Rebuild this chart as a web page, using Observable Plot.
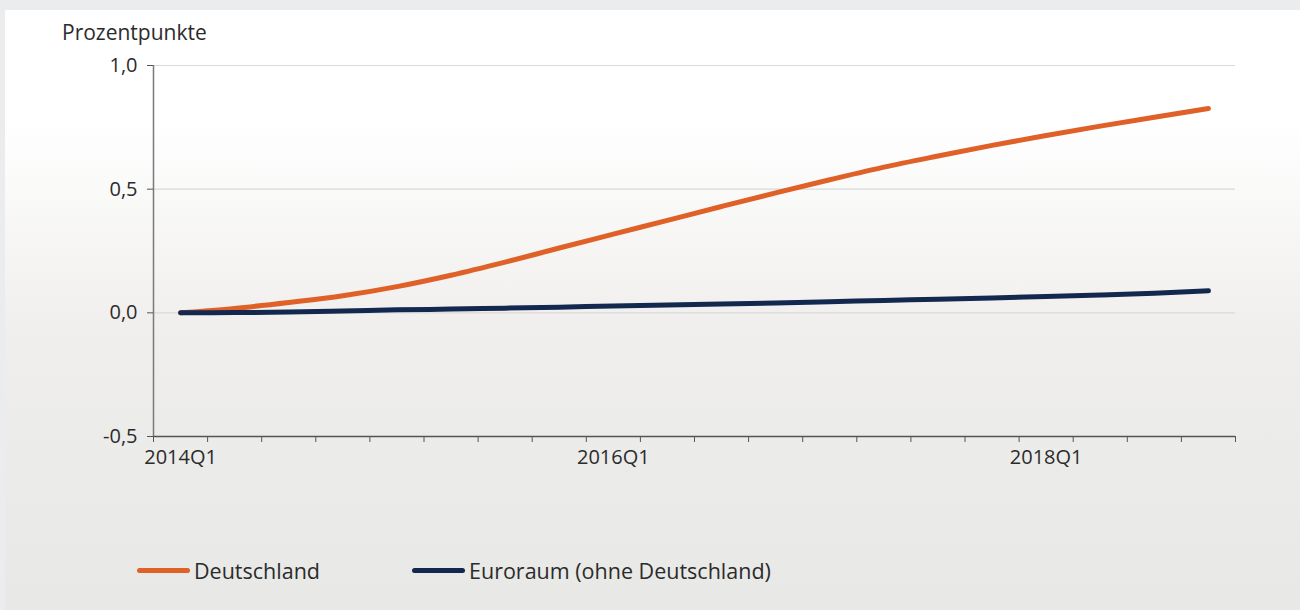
<!DOCTYPE html>
<html>
<head>
<meta charset="utf-8">
<script src="https://cdn.jsdelivr.net/npm/d3@7"></script>
<script src="https://cdn.jsdelivr.net/npm/@observablehq/plot@0.6"></script>
<style>
  html, body { margin: 0; padding: 0; }
  body {
    width: 1300px; height: 610px; overflow: hidden; position: relative;
    background: #ebeced;
    font-family: "Open Sans", sans-serif; color: #2b2b2b;
  }
  #panel {
    position: absolute; left: 5px; top: 10px; right: 0; bottom: 0;
    background: linear-gradient(to bottom, #ffffff 0px, #ffffff 110px, #efeeec 330px, #ebebe9 450px, #e8e8e6 600px);
  }
  #unit { position: absolute; left: 62px; top: 17px; font-size: 21px; line-height: 30px; }
  #chart { position: absolute; left: 0; top: 0; }
  #legend { position: absolute; left: 0; top: 555px; width: 1300px; height: 30px; }
  .item { position: absolute; top: 0; display: flex; align-items: center; height: 30px; font-size: 21.5px; }
  .swatch { width: 53px; height: 5px; border-radius: 3px; margin-right: 4px; }
</style>
</head>
<body>
<div id="panel"></div>
<div id="unit">Prozentpunkte</div>
<div id="chart"></div>
<div id="legend"></div>
<script>
// Quarterly periods on the x axis
const quarters = [
  "2014Q1", "2014Q2", "2014Q3", "2014Q4",
  "2015Q1", "2015Q2", "2015Q3", "2015Q4",
  "2016Q1", "2016Q2", "2016Q3", "2016Q4",
  "2017Q1", "2017Q2", "2017Q3", "2017Q4",
  "2018Q1", "2018Q2", "2018Q3", "2018Q4"
];
// Cumulative effect in percentage points
const deutschland = [0, 0.018, 0.042, 0.069, 0.106, 0.152, 0.205, 0.262, 0.318, 0.374,
                     0.43, 0.485, 0.538, 0.589, 0.634, 0.677, 0.717, 0.755, 0.791, 0.826];
const euroraum = [0, 0.001, 0.003, 0.007, 0.012, 0.015, 0.019, 0.023, 0.028, 0.032,
                  0.036, 0.04, 0.045, 0.05, 0.055, 0.06, 0.066, 0.072, 0.079, 0.089];
const seriesNames = ["Deutschland", "Euroraum (ohne Deutschland)"];
const seriesColors = ["#df6128", "#13284f"];
const xLabelQuarters = ["2014Q1", "2016Q1", "2018Q1"];
const yTicks = [-0.5, 0, 0.5, 1.0];
const yTickLabels = ["-0,5", "0,0", "0,5", "1,0"];
const yGrid = [0, 0.5, 1.0];

const rows = [];
[deutschland, euroraum].forEach((vals, s) => {
  vals.forEach((v, i) => rows.push({i, quarter: quarters[i], series: seriesNames[s], value: v}));
});

const n = quarters.length;
const bandEdges = d3.range(n + 1).map(k => k - 0.5);
const labelIdx = xLabelQuarters.map(q => quarters.indexOf(q));

const chart = Plot.plot({
  width: 1300,
  height: 490,
  marginLeft: 153,
  marginRight: 65,
  marginTop: 65,
  marginBottom: 54,
  style: {background: "transparent", fontFamily: "Open Sans, sans-serif", color: "#2b2b2b"},
  x: {domain: [-0.5, n - 0.5], label: null},
  y: {domain: [-0.5, 1.0], label: null},
  color: {domain: seriesNames, range: seriesColors},
  marks: [
    Plot.ruleY(yGrid, {stroke: "#d9d9d9", strokeWidth: 1.2}),
    Plot.ruleX([-0.5], {y1: -0.5, y2: 1.0, stroke: "#7a7a7a", strokeWidth: 1.5}),
    Plot.ruleY([-0.5], {x1: -0.5, x2: n - 0.5, stroke: "#555", strokeWidth: 1.5}),
    Plot.axisY({
      ticks: yTicks, tickSize: 6, tickPadding: 10, fontSize: 20, stroke: "#555",
      tickFormat: d => yTickLabels[yTicks.indexOf(d)]
    }),
    Plot.axisX({ticks: bandEdges, tickSize: 6, tickFormat: () => "", stroke: "#555"}),
    Plot.axisX({
      ticks: labelIdx, tickSize: 0, tickPadding: 13, fontSize: 20,
      tickFormat: d => quarters[d]
    }),
    Plot.line(rows, {
      x: "i", y: "value", z: "series", stroke: "series",
      strokeWidth: 5, strokeLinecap: "round", strokeLinejoin: "round", curve: "monotone-x"
    })
  ]
});
document.getElementById("chart").appendChild(chart);

// Legend below the plot
const legend = document.getElementById("legend");
const legendX = [137, 412];
seriesNames.forEach((name, s) => {
  const item = document.createElement("div");
  item.className = "item";
  item.style.left = legendX[s] + "px";
  const sw = document.createElement("div");
  sw.className = "swatch";
  sw.style.background = seriesColors[s];
  const label = document.createElement("span");
  label.textContent = name;
  item.appendChild(sw);
  item.appendChild(label);
  legend.appendChild(item);
});
</script>
</body>
</html>
